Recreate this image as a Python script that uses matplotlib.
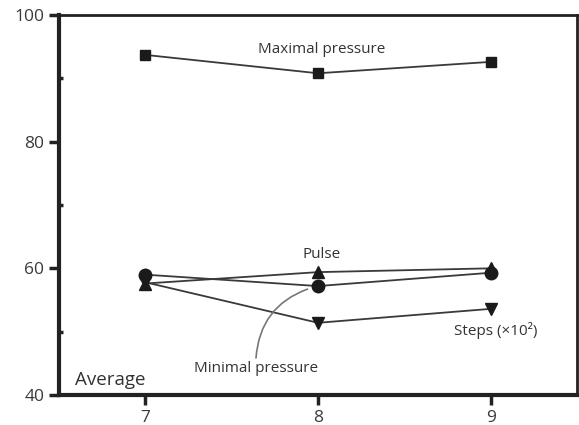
import numpy as np
import matplotlib
matplotlib.use("Agg")
import matplotlib.pyplot as plt

plt.rcParams['font.family'] = ['Open Sans', 'DejaVu Sans']

# data
x_vals = [7, 8, 9]
max_pressure = [93.7, 90.8, 92.6]
pulse = [57.6, 59.4, 60.0]
min_pressure = [59.0, 57.2, 59.3]
steps = [57.8, 51.4, 53.6]

y_ticks = [40, 60, 80, 100]
y_minor = [50, 70, 90]

txt_col = '#333333'
line_col = '#3a3a3a'

fig = plt.figure(figsize=(5.79, 4.25), dpi=100)
ax = fig.add_axes([0.1019, 0.0706, 0.8946, 0.8941])

ax.plot(x_vals, max_pressure, color=line_col, lw=1.3, marker='s', ms=7.5, mfc='#1a1a1a', mec='#1a1a1a')
ax.plot(x_vals, pulse, color=line_col, lw=1.3, marker='^', ms=9, mfc='#1a1a1a', mec='#1a1a1a')
ax.plot(x_vals, min_pressure, color=line_col, lw=1.3, marker='o', ms=9, mfc='#1a1a1a', mec='#1a1a1a')
ax.plot(x_vals, steps, color=line_col, lw=1.3, marker='v', ms=9, mfc='#1a1a1a', mec='#1a1a1a')

ax.set_xlim(6.5, 9.5)
ax.set_ylim(40, 100)
ax.set_xticks(x_vals)
ax.set_yticks(y_ticks)
ax.set_yticks(y_minor, minor=True)
ax.tick_params(axis='both', which='major', direction='out', length=7, width=2.5,
               labelsize=12.5, labelcolor='#3a3a3a', color='#222222')
ax.tick_params(axis='y', which='minor', direction='in', length=3, width=2.5, color='#222222')

for side in ['left', 'bottom']:
    ax.spines[side].set_linewidth(3)
    ax.spines[side].set_color('#222222')
for side in ['top', 'right']:
    ax.spines[side].set_linewidth(2)
    ax.spines[side].set_color('#222222')

fs = 11
ax.text(8.02, 94.5, 'Maximal pressure', fontsize=fs, color=txt_col, ha='center', va='center')
ax.text(8.02, 61.0, 'Pulse', fontsize=fs, color=txt_col, ha='center', va='bottom')
ax.text(9.03, 51.6, 'Steps (×10²)', fontsize=fs, color=txt_col, ha='center', va='top')
ax.text(6.59, 41.0, 'Average', fontsize=13.5, color=txt_col, ha='left', va='bottom')
ax.annotate('Minimal pressure', xy=(7.97, 57.0), xytext=(7.64, 45.4),
            fontsize=fs, color=txt_col, ha='center', va='top',
            arrowprops=dict(arrowstyle='-', color='#777777', lw=1.2,
                            connectionstyle='arc3,rad=-0.35',
                            shrinkA=0, shrinkB=4, relpos=(0.5, 1.0)))

fig.savefig('out.png', dpi=100)
